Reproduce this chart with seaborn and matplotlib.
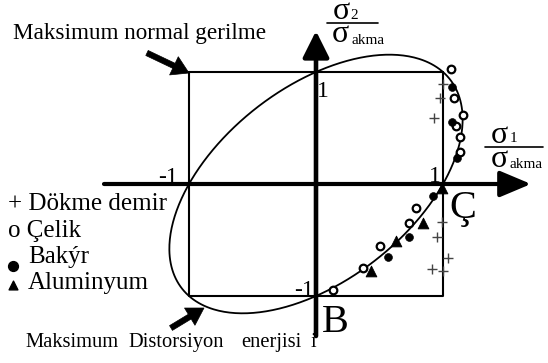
import numpy as np
import pandas as pd
import matplotlib
matplotlib.use("Agg")
import matplotlib.pyplot as plt
import seaborn as sns
from matplotlib.patches import FancyArrowPatch

# ---------------- data (normalised stresses sigma/sigma_akma) ----------------
dokme_x = [1.00, 0.98, 0.93, 0.99, 0.95, 1.04, 0.91, 1.00]
dokme_y = [0.89, 0.77, 0.59, -0.34, -0.47, -0.66, -0.76, -0.78]
celik_x = [1.06, 1.09, 1.16, 1.10, 1.13, 1.13, 0.79, 0.73, 0.50, 0.37, 0.13]
celik_y = [1.03, 0.77, 0.62, 0.52, 0.42, 0.29, -0.21, -0.35, -0.55, -0.75, -0.95]
bakir_x = [1.07, 1.07, 1.11, 0.92, 0.73, 0.57]
bakir_y = [0.87, 0.55, 0.23, -0.11, -0.47, -0.65]
alu_x = [0.99, 0.84, 0.63, 0.43]
alu_y = [-0.04, -0.35, -0.51, -0.78]

square_x = [-1, 1, 1, -1, -1]
square_y = [1, 1, -1, -1, 1]

legend_labels = ["+ Dökme demir", "o Çelik", "Bakýr", "Aluminyum"]
title_text = "Maksimum normal gerilme"
bottom_words = ["Maksimum", "Distorsiyon", "enerjisi", "i"]

# ---------------- figure ----------------
sns.set_theme(style="white")
plt.rcParams["font.family"] = ["Liberation Serif", "DejaVu Serif"]

W, H = 548, 363
fig = plt.figure(figsize=(W / 100, H / 100), dpi=100)
ax = fig.add_axes([0, 0, 1, 1])
X0, Y0, SX, SY = 316, 184, 127, 112
ax.set_xlim(-X0 / SX, (W - X0) / SX)
ax.set_ylim(-(H - Y0) / SY, Y0 / SY)
ax.axis("off")


def P(x, y):
    """pixel position -> data coordinates (for annotations only)"""
    return ((x - X0) / SX, (Y0 - y) / SY)


# von Mises ellipse (theoretical curve)
t = np.linspace(0, 2 * np.pi, 400)
ex = np.cos(t) + np.sin(t) / np.sqrt(3)
ey = np.cos(t) - np.sin(t) / np.sqrt(3)
ax.plot(ex, ey, color="black", lw=1.3, zorder=3)

# square (max normal stress)
ax.plot(square_x, square_y, color="black", lw=1.5, zorder=2)

# coordinate axes with arrows
ax.annotate("", xy=P(531, 184), xytext=P(104, 184),
            arrowprops=dict(arrowstyle="-|>,head_length=0.95,head_width=0.4",
                            lw=3, color="black", mutation_scale=20,
                            shrinkA=0, shrinkB=0), zorder=4)
ax.annotate("", xy=P(316, 31), xytext=P(316, 336),
            arrowprops=dict(arrowstyle="-|>,head_length=0.8,head_width=0.4",
                            lw=3.3, color="black", mutation_scale=20,
                            shrinkA=0, shrinkB=0), zorder=4)

# pointer arrows
for tail, tip in [((147, 53), (189, 73)), ((171, 328), (204, 308))]:
    ax.add_patch(FancyArrowPatch(P(*tail), P(*tip),
                                 arrowstyle="simple,head_length=1.2,head_width=1.45,tail_width=0.4",
                                 mutation_scale=10, fc="black", ec="black", lw=0.5,
                                 shrinkA=0, shrinkB=0, zorder=4))

# data points
sns.scatterplot(x=dokme_x, y=dokme_y, marker="+", s=60, color="#444444",
                linewidth=1.0, ax=ax, zorder=5, legend=False)
sns.scatterplot(x=celik_x, y=celik_y, marker="o", s=30, facecolor="white",
                edgecolor="black", linewidth=1.6, ax=ax, zorder=5, legend=False)
sns.scatterplot(x=bakir_x, y=bakir_y, marker="o", s=32, color="black",
                edgecolor="black", ax=ax, zorder=5, legend=False)
sns.scatterplot(x=alu_x, y=alu_y, marker="^", s=60, color="black",
                edgecolor="black", ax=ax, zorder=5, legend=False)

# ---------------- texts ----------------
def T(x, y, s, size, **kw):
    ax.text(*P(x, y), s, fontsize=size, va="baseline", color="black", **kw)


T(13, 39, title_text, 16.7)
T(8, 210, legend_labels[0], 18)
T(8, 237, legend_labels[1], 18)
T(28, 263, legend_labels[2], 18)
T(28, 289, legend_labels[3], 18)
ax.scatter(*P(13, 266), s=50, marker="o", color="black", zorder=5)
ax.scatter(*P(13, 285), s=40, marker="^", color="black", zorder=5)

# tick labels
T(317, 97, "1", 17)
T(178, 183, "-1", 17, ha="right")
T(441, 182, "1", 17, ha="right")
T(314, 296, "-1", 17, ha="right")
T(449, 218, "Ç", 29)
T(322, 332, "B", 29)

# bottom caption (justified words)
for xw, w in zip([25, 128, 241, 311], bottom_words):
    T(xw, 347, w, 14.8)

# axis labels sigma2/sigma_akma and sigma1/sigma_akma
T(333, 19, "σ", 23)
T(350, 19, "2", 11)
ax.plot(*zip(P(327, 23), P(378, 23)), color="black", lw=1.2)
T(332, 42, "σ", 23)
T(351, 44, "akma", 11)

T(491, 143, "σ", 23)
T(510, 142, "1", 11)
ax.plot(*zip(P(485, 147), P(543, 147)), color="black", lw=1.2)
T(491, 167, "σ", 23)
T(509, 168, "akma", 11)

fig.savefig("out.png", dpi=100, facecolor="white")
